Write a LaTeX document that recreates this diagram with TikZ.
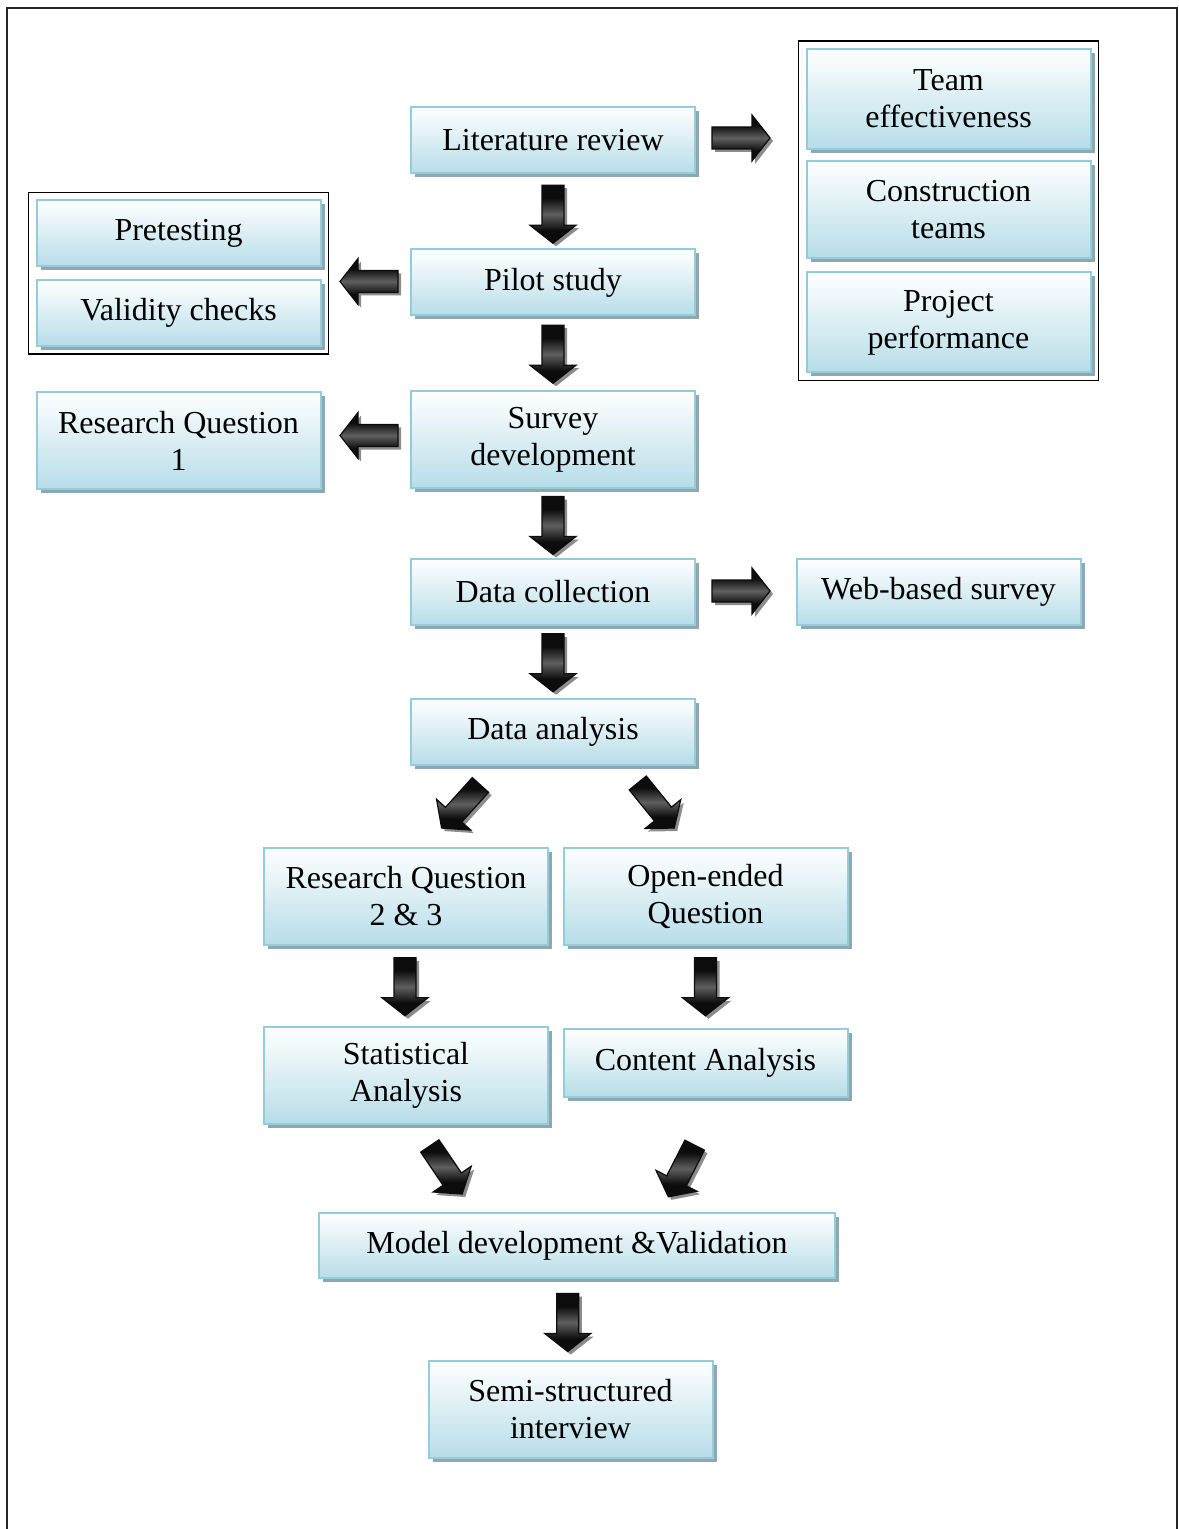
\documentclass[tikz,border=0pt]{standalone}
\usepackage{fontspec}
\setmainfont{Liberation Serif}
\usetikzlibrary{calc}
\usetikzlibrary{fit}
\usetikzlibrary{shadows}

\definecolor{boxline}{RGB}{146,205,220}
\definecolor{boxfill}{RGB}{183,221,232}
\definecolor{boxshadow}{RGB}{143,167,176}
\definecolor{arrowdark}{RGB}{12,12,12}
\definecolor{arrowmid}{RGB}{95,95,95}
\definecolor{arrowgray}{RGB}{140,140,140}

\pgfdeclareverticalshading{arrowmetal}{100bp}{color(0bp)=(arrowdark); color(36bp)=(arrowdark); color(50bp)=(arrowmid); color(64bp)=(arrowdark); color(100bp)=(arrowdark)}

\tikzset{
  stepbox/.style={draw=boxline, line width=1pt, top color=white, bottom color=boxfill,
    align=center, inner sep=2pt, font=\fontsize{16}{18.5}\selectfont,
    drop shadow={shadow xshift=2pt, shadow yshift=-2pt, fill=boxshadow, opacity=1}},
  onebox/.style={stepbox, minimum width=142pt, minimum height=33pt},
  twobox/.style={stepbox, minimum width=142pt, minimum height=48.5pt},
  groupframe/.style={draw=black, line width=0.7pt, inner sep=3.5pt},
  arrowshadow/.style={fill=arrowgray},
  pics/bigarrow/.style={code={
    \begin{scope}[shift={(1.5pt,-1.5pt)}, rotate=#1]
      \fill[arrowshadow] (-14.5pt,-5.5pt) -- (5.5pt,-5.5pt) -- (5.5pt,-11.5pt) -- (14.5pt,0pt)
        -- (5.5pt,11.5pt) -- (5.5pt,5.5pt) -- (-14.5pt,5.5pt) -- cycle;
    \end{scope}
    \begin{scope}[rotate=#1]
      \shade[shading=arrowmetal] (-14.5pt,-5.5pt) -- (5.5pt,-5.5pt) -- (5.5pt,-11.5pt) -- (14.5pt,0pt)
        -- (5.5pt,11.5pt) -- (5.5pt,5.5pt) -- (-14.5pt,5.5pt) -- cycle;
      \draw[arrowdark, line width=0.6pt] (-14.5pt,-5.5pt) -- (5.5pt,-5.5pt) -- (5.5pt,-11.5pt) -- (14.5pt,0pt)
        -- (5.5pt,11.5pt) -- (5.5pt,5.5pt) -- (-14.5pt,5.5pt) -- cycle;
    \end{scope}}}
}

\begin{document}
\begin{tikzpicture}[x=0.5pt,y=-0.5pt]
\useasboundingbox (0,0) rectangle (1178,1529);

%Shape: Page frame
\draw [line width=1pt, black!85] (7,8) rectangle (1177,1545);

%Main column
\node [onebox] (lit) at (553,140) {Literature review};
\node [onebox] (pilot) at (553,282.5) {Pilot study};
\node [twobox] (survey) at (553,439.5) {Survey\\development};
\node [onebox] (collect) at (553,592) {Data collection};
\node [onebox] (analysis) at (553,731.5) {Data analysis};

%Left side
\node [onebox] (pretest) at (178.5,233.5) {Pretesting};
\node [onebox] (validity) at (178.5,313) {Validity checks};
\node [groupframe, fit=(pretest)(validity)] (leftgroup) {};
\node [twobox] (rq1) at (178.5,440.5) {Research Question\\1};

%Right side
\node [twobox, minimum height=50pt] (team) at (948.5,99) {Team\\effectiveness};
\node [twobox] (constr) at (948.5,209.5) {Construction\\teams};
\node [twobox, minimum height=50pt] (perf) at (948.5,322.5) {Project\\performance};
\node [groupframe, fit=(team)(constr)(perf)] (rightgroup) {};
\node [onebox] (web) at (938.5,592) {Web-based survey};

%Two branches
\node [twobox] (rq23) at (406,896) {Research Question\\2 \& 3};
\node [twobox] (open) at (705.5,896) {Open-ended\\Question};
\node [twobox] (stat) at (406,1075.5) {Statistical\\Analysis};
\node [onebox, minimum height=34pt] (content) at (705.5,1063) {Content Analysis};
\node [onebox, minimum width=258pt, minimum height=32.5pt] (model) at (577,1245.5) {Model development \&Validation};
\node [twobox] (semi) at (570.5,1409.5) {Semi-structured\\interview};

%Block arrows
\pic at ($(lit.south)!.5!(pilot.north)+(0,3)$) {bigarrow=-90};
\pic at ($(pilot.south)!.5!(survey.north)+(0,1)$) {bigarrow=-90};
\pic at ($(survey.south)!.5!(collect.north)+(0,2)$) {bigarrow=-90};
\pic at ($(collect.south)!.5!(analysis.north)+(0,1)$) {bigarrow=-90};
\pic at ($(lit.east)+(45,-2)$) {bigarrow=0};
\pic at ($(collect.east)+(45,-1)$) {bigarrow=0};
\pic at ($(pilot.west)+(-41,-1)$) {bigarrow=180};
\pic at ($(survey.west)+(-41,-4)$) {bigarrow=180};
\pic at ($(analysis.south)+(-92,41)$) {bigarrow=-132};
\pic at ($(analysis.south)+(103,40)$) {bigarrow=-51};
\pic at ($(rq23.south)!.5!(stat.north)+(-1,1)$) {bigarrow=-90};
\pic at ($(open.south)!.5!(content.north)$) {bigarrow=-90};
\pic at ($(stat.south)+(40,45)$) {bigarrow=-56};
\pic at ($(content.south)+(-24,73)$) {bigarrow=-117};
\pic at ($(model.south)!.5!(semi.north)+(-6,3)$) {bigarrow=-90};

\end{tikzpicture}
\end{document}
